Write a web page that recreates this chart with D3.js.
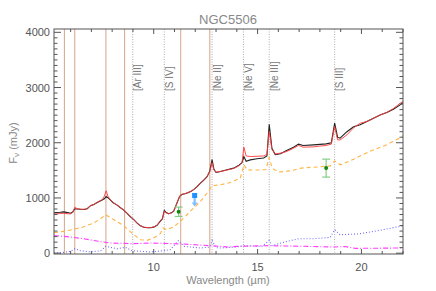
<!DOCTYPE html>
<html><head><meta charset="utf-8">
<script src="https://cdn.jsdelivr.net/npm/d3@7"></script>
<style>body{margin:0;background:#fff}svg{display:block}text{font-family:"Liberation Sans",Arial,sans-serif}</style>
</head><body><svg id="c" width="436" height="291"></svg>
<script>
const title = "NGC5506";
const wl = [5.2,5.3,5.5,5.67,5.85,6.0,6.1,6.2,6.3,6.48,6.65,6.8,6.96,7.12,7.28,7.52,7.62,7.71,7.8,7.92,8.05,8.24,8.4,8.56,8.72,8.88,9.04,9.2,9.36,9.52,9.68,9.84,10.0,10.16,10.3,10.42,10.51,10.6,10.72,10.85,10.96,11.13,11.25,11.35,11.5,11.65,11.8,11.97,12.1,12.25,12.4,12.57,12.7,12.81,12.9,13.0,13.21,13.53,13.85,14.1,14.25,14.34,14.45,14.65,14.97,15.29,15.45,15.56,15.69,15.85,16.1,16.4,16.73,16.97,17.2,17.7,18.0,18.3,18.55,18.71,18.85,18.97,19.3,19.62,19.94,20.26,20.58,20.9,21.22,21.54,21.86,22.0];
const observed = [730,738,742,748,735,724,745,805,800,795,792,805,860,880,918,962,985,1025,1005,960,912,870,822,780,720,660,606,545,495,470,463,460,472,505,570,625,775,735,715,730,760,920,1030,1062,1075,1095,1120,1165,1210,1270,1320,1385,1490,1695,1520,1462,1478,1510,1540,1595,1640,1750,1665,1690,1710,1725,1760,2336,1900,1785,1800,1860,1920,1975,1950,1962,1970,1980,2000,2354,2100,2083,2200,2290,2325,2384,2444,2504,2546,2607,2685,2727];
const model = [705,712,718,722,715,712,740,830,810,798,795,808,862,882,920,968,1030,1130,1030,965,915,872,824,782,722,662,608,547,497,472,465,462,474,507,572,625,760,732,713,728,758,915,1035,1065,1078,1098,1122,1167,1212,1272,1322,1387,1480,1640,1500,1470,1478,1505,1535,1580,1640,1920,1760,1750,1755,1760,1790,2200,1880,1795,1812,1841,1900,1950,1920,1925,1940,1950,1975,2293,2052,2050,2143,2270,2354,2384,2444,2504,2550,2620,2716,2745];
const contWl = [5.2,5.67,6.2,6.6,7.1,7.42,7.69,8.08,8.56,9.04,9.36,9.68,10.0,10.32,10.45,10.64,10.96,11.28,11.6,11.92,12.25,12.57,12.81,13.2,13.7,14.17,14.34,14.5,15.0,15.4,15.56,15.7,16.0,16.6,17.1,18.0,18.5,18.71,19.0,19.62,20.1,20.58,21.22,21.86,22.0];
const continuum = [370,394,437,474,546,618,696,606,497,335,244,232,275,353,456,425,474,575,696,817,937,1089,1221,1239,1280,1360,1600,1510,1505,1515,1733,1541,1468,1492,1541,1565,1580,1670,1600,1700,1790,1871,1962,2090,2130];
const starWl = [5.2,6.0,6.6,7.4,7.9,9.0,9.84,11.4,12.7,13.6,14.0,15.5,17.1,18.7,19.2,19.7,22.0];
const stellar = [320,293,262,213,184,172,184,166,136,112,123,136,125,112,120,87,94];
const pahWl = [5.2,5.6,6.0,6.2,6.48,6.96,7.45,7.7,7.92,8.24,8.64,8.96,9.84,10.48,10.8,11.2,11.45,12.25,12.7,12.81,13.0,13.2,14.0,14.36,15.2,15.56,15.7,16.4,17.0,17.7,18.5,18.71,18.97,19.8,20.6,21.2,21.86,22.0];
const pah = [4,10,33,81,45,22,45,123,105,81,105,45,22,45,63,231,123,94,110,230,99,94,112,136,123,231,136,213,262,262,286,425,335,347,394,437,485,497];
const pahFeatures = [5.7,6.2,7.7,8.6,11.3,12.7];
const lineNames = ["[Ar III]","[S IV]","[Ne II]","[Ne V]","[Ne III]","[S III]"];
const lineWl = [8.99,10.51,12.81,14.32,15.56,18.71];
const photWl = [11.2,18.3];
const photVal = [750,1541];
const photLo = [665,1378];
const photHi = [835,1703];
const limWl = [11.97];
const limVal = [1045];
const limArrowTo = [846];
const xTickLabels = [10,15,20];
const yTickLabels = [0,1000,2000,3000,4000];

const svg = d3.select("#c");
const L=54,R=403,T=29,B=254;
const x = d3.scaleLinear().domain([5.2,22]).range([L,R]);
const y = d3.scaleLinear().domain([-15,4060]).range([B,T]);
const g = svg.append("g");

// tan PAH lines
g.selectAll(".pf").data(pahFeatures).enter().append("line")
 .attr("x1",d=>x(d)).attr("x2",d=>x(d)).attr("y1",T).attr("y2",B)
 .attr("stroke","#d4a48a").attr("stroke-width",1);
// dotted emission lines
g.selectAll(".el").data(lineWl).enter().append("line")
 .attr("x1",d=>x(d)).attr("x2",d=>x(d)).attr("y1",T).attr("y2",B)
 .attr("stroke","#999").attr("stroke-width",0.8).attr("stroke-dasharray","1,1.5");
g.selectAll(".lt").data(lineWl).enter().append("text")
 .attr("transform",d=>`translate(${x(d)+8.5},91) rotate(-90)`)
 .attr("font-size",10).attr("fill","#777").text((d,i)=>lineNames[i]);

const line = (xs)=>d3.line().x((d,i)=>x(xs[i])).y(d=>y(d));
g.append("path").datum(pah).attr("d",line(pahWl)).attr("fill","none")
 .attr("stroke","#6a6aff").attr("stroke-width",1.1).attr("stroke-dasharray","1,2");
g.append("path").datum(stellar).attr("d",line(starWl)).attr("fill","none")
 .attr("stroke","#ff3cff").attr("stroke-width",1.1).attr("stroke-dasharray","5,2,1,2");
g.append("path").datum(continuum).attr("d",line(contWl)).attr("fill","none")
 .attr("stroke","#ffb340").attr("stroke-width",1.1).attr("stroke-dasharray","4,3");
g.append("path").datum(observed).attr("d",line(wl)).attr("fill","none")
 .attr("stroke","#222").attr("stroke-width",1.1);
g.append("path").datum(model).attr("d",line(wl)).attr("fill","none")
 .attr("stroke","#ff3a3a").attr("stroke-width",1).attr("stroke-opacity",0.9);

// photometry points with error bars
photWl.forEach((w,i)=>{
  const cx=x(w);
  g.append("line").attr("x1",cx).attr("x2",cx).attr("y1",y(photLo[i])).attr("y2",y(photHi[i])).attr("stroke","#88cc88").attr("stroke-width",1.2);
  [photLo[i],photHi[i]].forEach(v=>g.append("line").attr("x1",cx-4).attr("x2",cx+4).attr("y1",y(v)).attr("y2",y(v)).attr("stroke","#88cc88").attr("stroke-width",1.2));
  g.append("circle").attr("cx",cx).attr("cy",y(photVal[i])).attr("r",2).attr("fill","#118811");
});
// upper-limit point with arrow
limWl.forEach((w,i)=>{
  const cx=x(w), y0=y(limVal[i]), y1=y(limArrowTo[i]);
  g.append("line").attr("x1",cx).attr("x2",cx).attr("y1",y0).attr("y2",y1-3).attr("stroke","#7fbfff").attr("stroke-width",2.2);
  g.append("path").attr("d",`M${cx-3},${y1-4}L${cx+3},${y1-4}L${cx},${y1}Z`).attr("fill","#7fbfff");
  g.append("rect").attr("x",cx-2.5).attr("y",y0-2.5).attr("width",5).attr("height",5).attr("fill","#1e90ff");
});

// frame
g.append("rect").attr("x",L).attr("y",T).attr("width",R-L).attr("height",B-T).attr("fill","none").attr("stroke","#555").attr("stroke-width",1);
const ax = "#555";
const xMinor = d3.range(6,23,1);
const yMinor = d3.range(0,4060,100);
xMinor.forEach(v=>{
  const len = (v%5===0)?5:3;
  g.append("line").attr("x1",x(v)).attr("x2",x(v)).attr("y1",B).attr("y2",B-len).attr("stroke",ax);
  g.append("line").attr("x1",x(v)).attr("x2",x(v)).attr("y1",T).attr("y2",T+len).attr("stroke",ax);
});
yMinor.forEach(v=>{
  const len = (v%1000===0)?7:3.5;
  g.append("line").attr("x1",L).attr("x2",L+len).attr("y1",y(v)).attr("y2",y(v)).attr("stroke",ax);
  g.append("line").attr("x1",R).attr("x2",R-len).attr("y1",y(v)).attr("y2",y(v)).attr("stroke",ax);
});
g.selectAll(".xl").data(xTickLabels).enter().append("text").attr("x",d=>x(d)).attr("y",271)
 .attr("text-anchor","middle").attr("font-size",11).attr("fill","#555").text(d=>d);
g.selectAll(".yl").data(yTickLabels).enter().append("text").attr("x",50).attr("y",d=>y(d)+4)
 .attr("text-anchor","end").attr("font-size",11).attr("fill","#555").text(d=>d);

svg.append("text").attr("x",228).attr("y",24).attr("text-anchor","middle").attr("font-size",13).attr("fill","#888").text(title);
svg.append("text").attr("x",228).attr("y",284).attr("text-anchor","middle").attr("font-size",11).attr("fill","#888").text("Wavelength (\u00b5m)");
const yl = svg.append("text").attr("transform","translate(17,143) rotate(-90)").attr("text-anchor","middle").attr("font-size",11).attr("fill","#888");
yl.append("tspan").text("F");
yl.append("tspan").attr("font-size",8).attr("dy",2).text("\u03bd");
yl.append("tspan").attr("dy",-2).text(" (mJy)");
</script></body></html>
